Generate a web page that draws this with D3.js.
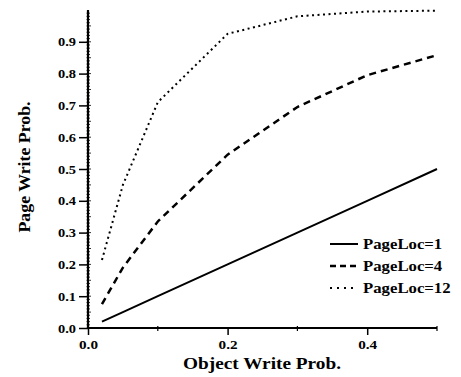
<!DOCTYPE html>
<html>
<head>
<meta charset="utf-8">
<script src="https://cdn.jsdelivr.net/npm/d3@7"></script>
<style>
  html, body { margin: 0; padding: 0; background: #fff; }
  svg { display: block; }
  text { font-family: "Liberation Serif", "DejaVu Serif", serif; font-weight: bold; fill: #000; }
</style>
</head>
<body>
<svg id="chart" width="461" height="377"></svg>
<script>
// Object write probability (x) and resulting page write probability per series
const objectWriteProb = [0.02, 0.05, 0.1, 0.2, 0.3, 0.4, 0.5];
const pageLoc1  = [0.02, 0.05, 0.1, 0.2, 0.3, 0.4, 0.5];
const pageLoc4  = [0.075, 0.19, 0.335, 0.545, 0.695, 0.795, 0.858];
const pageLoc12 = [0.214, 0.45, 0.71, 0.925, 0.98, 0.995, 0.998];
const seriesNames = ["PageLoc=1", "PageLoc=4", "PageLoc=12"];
const xTickValues = [0.0, 0.2, 0.4];
const yTickValues = [0.0, 0.1, 0.2, 0.3, 0.4, 0.5, 0.6, 0.7, 0.8, 0.9];

const svg = d3.select("#chart");
const x = d3.scaleLinear().domain([0, 0.5]).range([88, 437]);
const y = d3.scaleLinear().domain([0, 1]).range([328, 10]);

const styles = [
  { width: 2, dash: null, legendDash: null },
  { width: 2.5, dash: "7,5", legendDash: "6,4" },
  { width: 2, dash: "2,3.5", legendDash: "2,5" }
];
const allSeries = [pageLoc1, pageLoc4, pageLoc12];

// Horizontally widen a text element around its anchor point
function widen(sel, sx) {
  sel.each(function () {
    const t = d3.select(this);
    const tx = +t.attr("x") || 0, ty = +t.attr("y") || 0;
    t.attr("transform", `translate(${tx},${ty}) scale(${sx},1)`).attr("x", 0).attr("y", 0);
  });
}

// Y axis: major labelled ticks plus dense minor ticks
const yAxis = svg.append("g").attr("transform", `translate(${x(0)},0)`);
yAxis.call(d3.axisLeft(y).tickValues(yTickValues).tickSize(9).tickPadding(3)
  .tickFormat(d3.format(".1f")));
yAxis.select(".domain").remove();
yAxis.selectAll(".tick line").attr("stroke-width", 1.5);
yAxis.selectAll("text").style("font-size", "12.5px").style("font-family", null)
  .attr("textLength", 18).attr("lengthAdjust", "spacingAndGlyphs");
svg.append("g").selectAll("line")
  .data(d3.range(0, 100).map(i => i / 100))
  .join("line")
  .attr("x1", x(0) - 1.5).attr("x2", d => x(0) + ((Math.round(d * 100) % 5 === 0) ? 3 : 2))
  .attr("y1", d => y(d)).attr("y2", d => y(d))
  .attr("stroke", "#000").attr("stroke-width", 0.8);
svg.append("line")
  .attr("x1", x(0)).attr("x2", x(0)).attr("y1", y(0)).attr("y2", y(1))
  .attr("stroke", "#000").attr("stroke-width", 2.2);

// X axis
const xAxis = svg.append("g").attr("transform", `translate(0,${y(0)})`);
xAxis.call(d3.axisBottom(x).tickValues(xTickValues).tickSize(7).tickPadding(5)
  .tickFormat(d3.format(".1f")));
xAxis.select(".domain").remove();
xAxis.selectAll(".tick line").attr("stroke-width", 1.5);
xAxis.selectAll("text").style("font-size", "12.5px").style("font-family", null)
  .attr("textLength", 19).attr("lengthAdjust", "spacingAndGlyphs");
svg.append("g").selectAll("line")
  .data([0.1, 0.3, 0.5])
  .join("line")
  .attr("x1", d => x(d)).attr("x2", d => x(d))
  .attr("y1", y(0) - 2).attr("y2", y(0) + 3)
  .attr("stroke", "#000").attr("stroke-width", 1.2);
svg.append("line")
  .attr("x1", x(0)).attr("x2", x(0.5)).attr("y1", y(0)).attr("y2", y(0))
  .attr("stroke", "#000").attr("stroke-width", 2);

// Series lines
const line = d3.line().x((d, i) => x(objectWriteProb[i])).y(d => y(d));
allSeries.forEach((vals, k) => {
  svg.append("path")
    .datum(vals)
    .attr("d", line)
    .attr("fill", "none")
    .attr("stroke", "#000")
    .attr("stroke-width", styles[k].width)
    .attr("stroke-dasharray", styles[k].dash);
});

// Legend
const legend = svg.append("g");
seriesNames.forEach((name, k) => {
  const cy = 244 + k * 22;
  legend.append("line")
    .attr("x1", 330).attr("x2", 358).attr("y1", cy).attr("y2", cy)
    .attr("stroke", "#000")
    .attr("stroke-width", styles[k].width)
    .attr("stroke-dasharray", styles[k].legendDash);
  legend.append("text")
    .attr("x", 363).attr("y", cy + 4.8)
    .style("font-size", "15.5px")
    .call(widen, 1.08)
    .text(name);
});

// Axis titles
svg.append("text")
  .attr("x", 262).attr("y", 369)
  .attr("text-anchor", "middle")
  .style("font-size", "16.5px")
  .call(widen, 1.17)
  .text("Object Write Prob.");
svg.append("text")
  .attr("transform", "translate(30,167) rotate(-90) scale(1.08,1)")
  .attr("text-anchor", "middle")
  .style("font-size", "16.5px")
  .text("Page Write Prob.");
</script>
</body>
</html>
